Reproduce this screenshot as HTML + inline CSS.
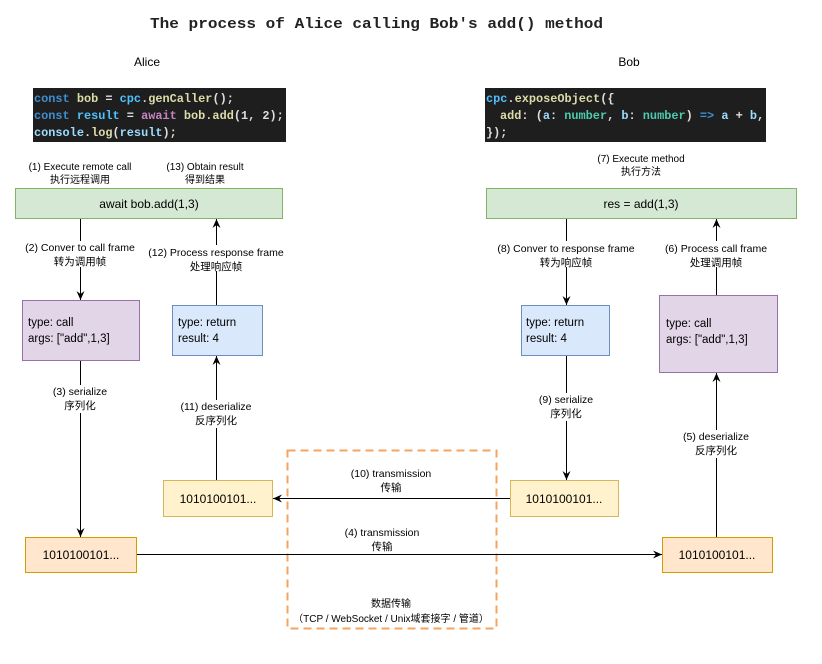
<!DOCTYPE html>
<html><head><meta charset="utf-8"><style>
body{margin:0;background:#fff;}
svg{display:block;font-family:"Liberation Sans","Noto Sans CJK SC",sans-serif;}
.m{font-family:"Liberation Mono","DejaVu Sans Mono",monospace;}
</style></head><body>
<svg width="822" height="664" viewBox="0 0 822 664" xmlns="http://www.w3.org/2000/svg">
<defs><marker id="a" markerWidth="10" markerHeight="10" refX="9" refY="5" orient="auto" markerUnits="userSpaceOnUse"><path d="M0,1 L9,5 L0,9 L3,5z" fill="#000"/></marker></defs>
<text x="150" y="28" textLength="453" lengthAdjust="spacingAndGlyphs" class="m" font-size="15" font-weight="bold" fill="#222">The process of Alice calling Bob's add() method</text>
<text x="147" y="66" text-anchor="middle" font-size="12">Alice</text>
<text x="629" y="66" text-anchor="middle" font-size="12">Bob</text>
<!-- code blocks -->
<rect x="33" y="88" width="253" height="54" fill="#1e1e1e"/>
<g class="m" font-size="11.9" font-weight="bold">
<text x="34" y="102"><tspan fill="#3e8fd0">const</tspan><tspan fill="#dcdcaa"> bob</tspan><tspan fill="#ddd"> = </tspan><tspan fill="#4fc1ff">cpc</tspan><tspan fill="#ddd">.</tspan><tspan fill="#dcdcaa">genCaller</tspan><tspan fill="#ddd">();</tspan></text>
<text x="34" y="119"><tspan fill="#3e8fd0">const</tspan><tspan fill="#4fc1ff"> result</tspan><tspan fill="#ddd"> = </tspan><tspan fill="#c586c0">await</tspan><tspan fill="#dcdcaa"> bob.add</tspan><tspan fill="#ddd">(1, 2);</tspan></text>
<text x="34" y="136"><tspan fill="#9cdcfe">console</tspan><tspan fill="#ddd">.</tspan><tspan fill="#dcdcaa">log</tspan><tspan fill="#ddd">(</tspan><tspan fill="#9cdcfe">result</tspan><tspan fill="#ddd">);</tspan></text>
</g>
<rect x="485" y="88" width="281" height="54" fill="#1e1e1e"/>
<g class="m" font-size="11.9" font-weight="bold">
<text x="486" y="102"><tspan fill="#4fc1ff">cpc</tspan><tspan fill="#ddd">.</tspan><tspan fill="#dcdcaa">exposeObject</tspan><tspan fill="#ddd">({</tspan></text>
<text x="500" y="119"><tspan fill="#dcdcaa">add</tspan><tspan fill="#ddd">: (</tspan><tspan fill="#9cdcfe">a</tspan><tspan fill="#ddd">: </tspan><tspan fill="#4ec9b0">number</tspan><tspan fill="#ddd">, </tspan><tspan fill="#9cdcfe">b</tspan><tspan fill="#ddd">: </tspan><tspan fill="#4ec9b0">number</tspan><tspan fill="#ddd">) </tspan><tspan fill="#3e8fd0">=&gt;</tspan><tspan fill="#9cdcfe"> a</tspan><tspan fill="#ddd"> + </tspan><tspan fill="#9cdcfe">b</tspan><tspan fill="#ddd">,</tspan></text>
<text x="486" y="136" fill="#ddd">});</text>
</g>
<!-- labels small -->
<g font-size="10" text-anchor="middle" fill="#000">
<text x="80" y="170">(1) Execute remote call</text><text x="80" y="183">执行远程调用</text>
<text x="205" y="170">(13) Obtain result</text><text x="205" y="183">得到结果</text>
<text x="641" y="162">(7) Execute method</text><text x="641" y="175">执行方法</text>
</g>
<!-- green boxes -->
<rect x="15.5" y="188.5" width="267" height="30" fill="#d5e8d4" stroke="#82b366"/>
<text x="149" y="208" text-anchor="middle" font-size="12">await bob.add(1,3)</text>
<rect x="486.5" y="188.5" width="310" height="30" fill="#d5e8d4" stroke="#82b366"/>
<text x="641" y="208" text-anchor="middle" font-size="12">res = add(1,3)</text>
<!-- frames -->
<rect x="22.5" y="300.5" width="117" height="60" fill="#e1d5e7" stroke="#9673a6"/>
<text x="28" y="326" font-size="11.5">type: call</text><text x="28" y="342" font-size="11.5">args: ["add",1,3]</text>
<rect x="172.5" y="305.5" width="90" height="50" fill="#dae8fc" stroke="#6c8ebf"/>
<text x="178" y="326" font-size="11.5">type: return</text><text x="178" y="342" font-size="11.5">result: 4</text>
<rect x="521.5" y="305.5" width="88" height="50" fill="#dae8fc" stroke="#6c8ebf"/>
<text x="526" y="326" font-size="11.5">type: return</text><text x="526" y="342" font-size="11.5">result: 4</text>
<rect x="659.5" y="295.5" width="118" height="77" fill="#e1d5e7" stroke="#9673a6"/>
<text x="666" y="327" font-size="11.5">type: call</text><text x="666" y="343" font-size="11.5">args: ["add",1,3]</text>
<!-- binary boxes -->
<g font-size="12" text-anchor="middle">
<rect x="163.5" y="480.5" width="109" height="36" fill="#fff2cc" stroke="#d6b656"/><text x="218" y="503">1010100101...</text>
<rect x="510.5" y="480.5" width="108" height="36" fill="#fff2cc" stroke="#d6b656"/><text x="564" y="503">1010100101...</text>
<rect x="25.5" y="537.5" width="111" height="35" fill="#ffe6cc" stroke="#d79b00"/><text x="81" y="559">1010100101...</text>
<rect x="662.5" y="537.5" width="110" height="35" fill="#ffe6cc" stroke="#d79b00"/><text x="717" y="559">1010100101...</text>
</g>
<rect x="287.5" y="450.5" width="209" height="178" fill="none" stroke="#f4a460" stroke-width="2" stroke-dasharray="8,5"/>
<!-- arrows -->
<g stroke="#000" stroke-width="1" fill="none" marker-end="url(#a)">
<line x1="80.5" y1="219" x2="80.5" y2="300"/>
<line x1="80.5" y1="361" x2="80.5" y2="537"/>
<line x1="216.5" y1="305" x2="216.5" y2="219"/>
<line x1="216.5" y1="480" x2="216.5" y2="356"/>
<line x1="566.5" y1="219" x2="566.5" y2="305"/>
<line x1="566.5" y1="356" x2="566.5" y2="480"/>
<line x1="716.5" y1="295" x2="716.5" y2="219"/>
<line x1="716.5" y1="537" x2="716.5" y2="373"/>
<line x1="510" y1="498.5" x2="273" y2="498.5"/>
<line x1="137" y1="554.5" x2="662" y2="554.5"/>
</g>
<!-- connector labels with white bg -->
<g font-size="10.5" text-anchor="middle">
<rect x="22" y="241" width="118" height="26" fill="#fff"/>
<text x="80" y="251">(2) Conver to call frame</text><text x="80" y="265">转为调用帧</text>
<rect x="145" y="245" width="143" height="26" fill="#fff"/>
<text x="216" y="256">(12) Process response frame</text><text x="216" y="270">处理响应帧</text>
<rect x="495" y="241" width="143" height="26" fill="#fff"/>
<text x="566" y="252">(8) Conver to response frame</text><text x="566" y="266">转为响应帧</text>
<rect x="664" y="241" width="106" height="26" fill="#fff"/>
<text x="716" y="252">(6) Process call frame</text><text x="716" y="266">处理调用帧</text>
<rect x="50" y="385" width="60" height="28" fill="#fff"/>
<text x="80" y="395">(3) serialize</text><text x="80" y="409">序列化</text>
<rect x="180" y="400" width="74" height="28" fill="#fff"/>
<text x="216" y="410">(11) deserialize</text><text x="216" y="424">反序列化</text>
<rect x="536" y="393" width="60" height="28" fill="#fff"/>
<text x="566" y="403">(9) serialize</text><text x="566" y="417">序列化</text>
<rect x="682" y="430" width="68" height="28" fill="#fff"/>
<text x="716" y="440">(5) deserialize</text><text x="716" y="454">反序列化</text>
<text x="391" y="477">(10) transmission</text><text x="391" y="491">传输</text>
<text x="382" y="536">(4) transmission</text><text x="382" y="550">传输</text>
<text x="391" y="607" font-size="10">数据传输</text>
<text x="391" y="622" font-size="10">（TCP / WebSocket / Unix域套接字 / 管道）</text>
</g>
</svg>
</body></html>
